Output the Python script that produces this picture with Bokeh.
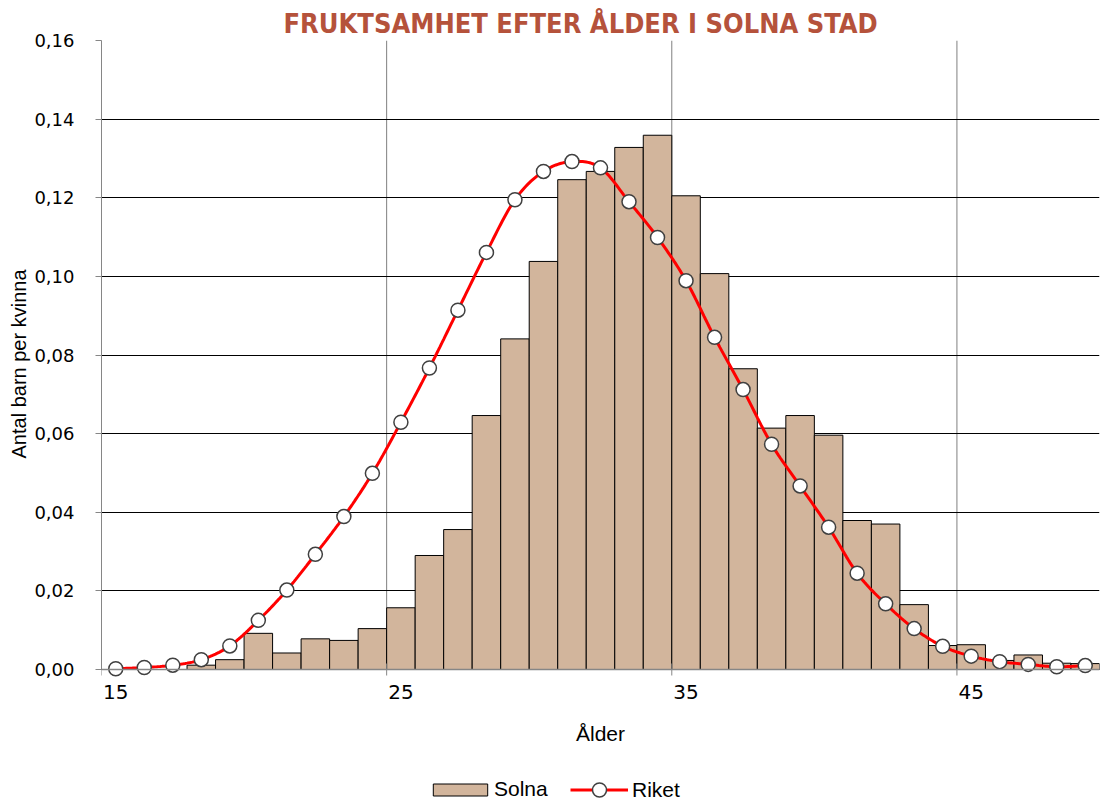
import numpy as np
from bokeh.plotting import figure
from bokeh.models import (FixedTicker, CustomJSTickFormatter, Legend, LegendItem, Span, Range1d, Title)
from bokeh.core.properties import value
from bokeh.embed import file_html
from bokeh.resources import INLINE

# ---------------- data ----------------
ages = list(range(15, 50))
solna = [0.0, 0.0, 0.0, 0.0011, 0.0025, 0.0092, 0.0042, 0.0078, 0.0074, 0.0104,
         0.0157, 0.0290, 0.0356, 0.0646, 0.0841, 0.1038, 0.1246, 0.1267, 0.1328, 0.1359,
         0.1205, 0.1007, 0.0765, 0.0614, 0.0646, 0.0596, 0.0379, 0.0370, 0.0165, 0.0061,
         0.0063, 0.0023, 0.0037, 0.0016, 0.0015]
riket = [0.0002, 0.0005, 0.0011, 0.0025, 0.0060, 0.0125, 0.0202, 0.0293, 0.0389, 0.0499,
         0.0629, 0.0767, 0.0914, 0.1061, 0.1195, 0.1267, 0.1292, 0.1276, 0.1190, 0.1099,
         0.0989, 0.0845, 0.0712, 0.0573, 0.0467, 0.0362, 0.0245, 0.0167, 0.0104, 0.0059,
         0.0034, 0.0020, 0.0013, 0.0007, 0.0010]
x_ticks = [15, 25, 35, 45]
x_tick_labels = ["15", "25", "35", "45"]
y_ticks = [0.0, 0.02, 0.04, 0.06, 0.08, 0.10, 0.12, 0.14, 0.16]
series_names = ["Solna", "Riket"]
title_text = "FRUKTSAMHET EFTER ÅLDER I SOLNA STAD"
x_label = "Ålder"
y_label = "Antal barn per kvinna"

X_START, X_END = 15, 50
Y_TOP = 0.16

# ---------------- helpers ----------------
def catmull_rom(xs, ys, n=16):
    xs = np.asarray(xs, float)
    ys = np.asarray(ys, float)
    px = np.concatenate([[xs[0]], xs, [xs[-1]]])
    py = np.concatenate([[ys[0]], ys, [ys[-1]]])
    outx, outy = [], []
    t = np.linspace(0, 1, n, endpoint=False)
    for i in range(1, len(px) - 2):
        for arr, out in ((px, outx), (py, outy)):
            p0, p1, p2, p3 = arr[i - 1], arr[i], arr[i + 1], arr[i + 2]
            out.extend(0.5 * (2 * p1 + (-p0 + p2) * t + (2 * p0 - 5 * p1 + 4 * p2 - p3) * t ** 2
                              + (-p0 + 3 * p1 - 3 * p2 + p3) * t ** 3))
    outx.append(xs[-1])
    outy.append(ys[-1])
    return outx, outy

ARIAL = "Liberation Sans"
TICKF = "DejaVu Sans"
NARROW = "DejaVu Sans Condensed, DejaVu Sans"
AXIS_GRAY = "#868686"

# layout (pixels): plot area 629 px tall, with a band below it for
# the category labels, the axis title and the legend
W, H = 1100, 803
TOP, LEFT = 40, 101
CHART_PX = 629
BAND_PX = H - TOP - CHART_PX
y_bottom = -Y_TOP * BAND_PX / CHART_PX

p = figure(width=W, height=H, x_range=Range1d(X_START, X_END), y_range=Range1d(y_bottom, Y_TOP),
           output_backend="svg", toolbar_location=None, title=title_text,
           x_axis_location=None,
           min_border_left=LEFT, min_border_right=1, min_border_top=TOP, min_border_bottom=0)
p.outline_line_color = None
p.background_fill_color = "white"
p.border_fill_color = "white"

# title
p.title.text_font = NARROW
p.title.text_font_size = "27px"
p.title.text_font_style = "bold"
p.title.text_color = "#B5523B"
p.title.align = "left"
p.title.offset = 182
p.title.standoff = 3

# grids
yt = FixedTicker(ticks=y_ticks, minor_ticks=[])
p.xgrid.visible = False
p.ygrid.ticker = yt
p.ygrid.grid_line_color = "#000000"

# vertical grid lines at the decade boundaries (behind the bars)
p.segment(x0=x_ticks, y0=[0] * len(x_ticks), x1=x_ticks, y1=[Y_TOP] * len(x_ticks),
          line_color="#7f7f7f", line_width=1, level="underlay")

# y axis
ya = p.yaxis[0]
ya.ticker = yt
ya.bounds = (0, Y_TOP)
ya.axis_line_color = AXIS_GRAY
ya.major_tick_line_color = AXIS_GRAY
ya.major_tick_in = 0
ya.major_tick_out = 6
ya.minor_tick_line_color = None
ya.minor_tick_out = 0
ya.major_label_standoff = 21
ya.major_label_text_font = TICKF
ya.major_label_text_font_size = "18px"
ya.major_label_text_color = "#000000"
ya.formatter = CustomJSTickFormatter(code="return tick.toFixed(2).replace('.', ',');")

# y axis title, centred on the value scale (not on the whole plot area)
ytitle = Title(text=y_label, align="left", offset=345, standoff=4,
               text_font=ARIAL, text_font_size="20px", text_font_style="normal",
               text_color="#000000")
p.add_layout(ytitle, "left")

# bars
bar_x = [a + 0.5 for a in ages]
bars = p.vbar(x=bar_x, top=solna, width=1, bottom=0,
              fill_color="#D2B59C", line_color="#000000", line_width=1)

# x axis line, tick marks and category labels
p.add_layout(Span(location=0, dimension="width", line_color=AXIS_GRAY, line_width=1.5))
p.scatter(x=x_ticks, y=[0] * len(x_ticks), marker="dash", angle=np.pi / 2, size=12,
          line_color=AXIS_GRAY, line_width=1)
label_x = [t + 0.5 for t in x_ticks]
p.text(x=label_x, y=[0] * len(label_x), text=x_tick_labels, text_align="center",
       text_baseline="top", y_offset=15, text_font=value(TICKF), text_font_size="20px",
       text_color="#000000")
p.text(x=[(X_START + X_END) / 2], y=[0], text=[x_label], text_align="center",
       text_baseline="middle", y_offset=64, text_font=value(ARIAL), text_font_size="21px",
       text_color="#000000")

# smoothed line with markers
sx, sy = catmull_rom(bar_x, riket)
line_r = p.line(sx, sy, line_color="#FF0000", line_width=3)
pts = p.scatter(bar_x, riket, size=14, marker="circle", fill_color="white",
                line_color="#404040", line_width=1.5)

common = dict(orientation="horizontal", padding=0, margin=0, label_text_font=ARIAL,
              label_text_font_size="21px", label_text_color="#000000", label_height=20,
              border_line_color=None, background_fill_alpha=0)
legend_bar = Legend(items=[LegendItem(label=series_names[0], renderers=[bars])],
                    location=(325, 2), glyph_width=68, glyph_height=15, label_standoff=0,
                    **common)
legend_line = Legend(items=[LegendItem(label=series_names[1], renderers=[line_r, pts])],
                     location=(469, -4), glyph_width=58, glyph_height=35, label_standoff=4,
                     **common)
p.add_layout(legend_bar)
p.add_layout(legend_line)

open("out.html", "w").write(file_html(p, INLINE))
